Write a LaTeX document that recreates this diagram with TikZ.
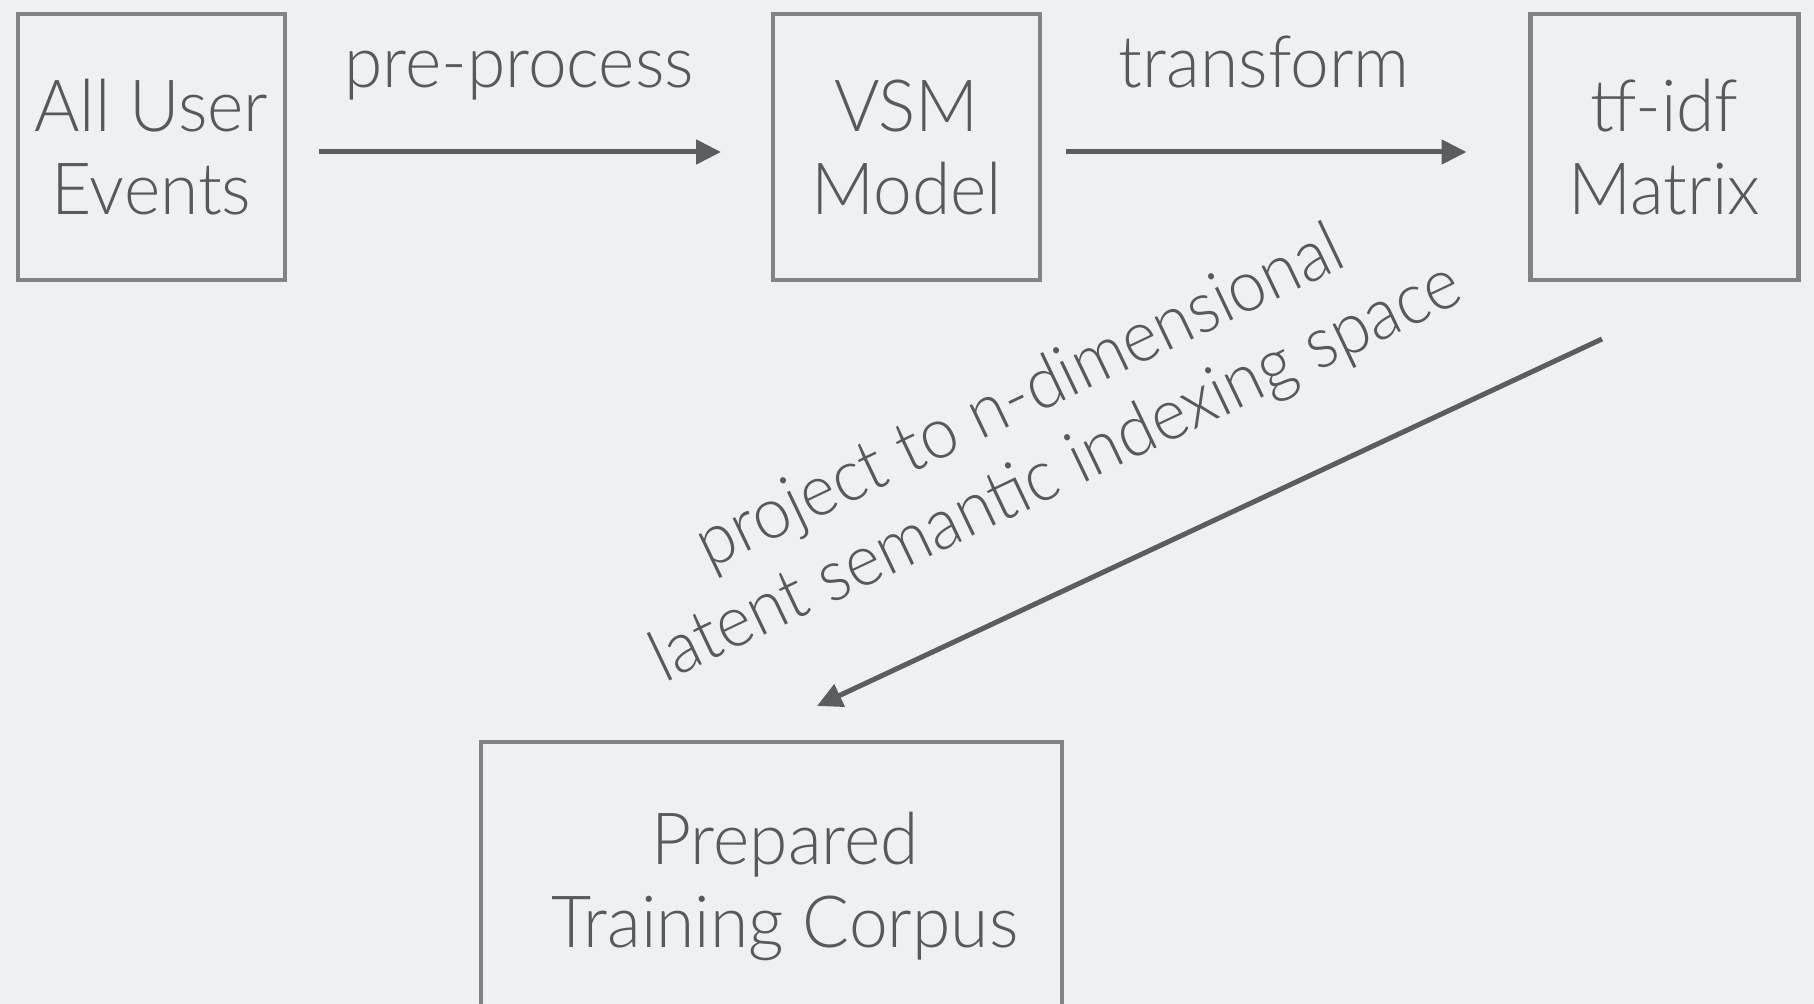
\documentclass[tikz,border=0pt]{standalone}
\usepackage{fontspec}
\setmainfont{Lato Light}[FakeStretch=0.965]
\usetikzlibrary{arrows.meta,calc}
\definecolor{bgcol}{RGB}{238,240,243}
\definecolor{boxcol}{RGB}{128,133,131}
\definecolor{inkcol}{RGB}{88,90,90}
\definecolor{arrcol}{RGB}{90,94,94}
\newcommand\labelfont{\fontsize{36}{41.5}\selectfont}
\begin{document}
\begin{tikzpicture}[x=0.5pt,y=-0.5pt,
  stagebox/.style={draw=boxcol, line width=2.4pt, outer sep=0pt, inner sep=0pt,
    text=inkcol, align=center, font=\labelfont},
  flow/.style={draw=arrcol, line width=2.5pt, -{Triangle[length=12.5pt,width=12pt]}},
  steplabel/.style={text=inkcol, font=\labelfont, inner sep=0pt, anchor=base}]
  % canvas
  \useasboundingbox (0,0) rectangle (1814,1004);
  \fill[bgcol] (0,0) rectangle (1814,1004);
  \clip (0,0) rectangle (1814,1004);

  % pipeline stages
  \node[stagebox, minimum width=133.5pt, minimum height=133pt] (events) at (151.5,147) {All User\\Events};
  \node[stagebox, minimum width=133.5pt, minimum height=133pt] (vsm) at (906.5,147) {VSM\\Model};
  \node[stagebox, minimum width=134pt, minimum height=133pt] (tfidf) at (1664.5,147) {tf-idf\\Matrix};
  \node[stagebox, minimum width=290.5pt, minimum height=144pt] (corpus) at (771.5,886)
    {\hspace*{13.5pt}Prepared\\\hspace*{13.5pt}Training Corpus};

  % transitions
  \draw[flow, shorten <=17pt, shorten >=26pt] ([yshift=-2.5pt]events.east) --
    node[steplabel, pos=0.4795, yshift=32pt] (lblpre) {pre-process} ([yshift=-2.5pt]vsm.west);
  \draw[flow, shorten <=13pt, shorten >=32pt] ([yshift=-2.5pt]vsm.east) --
    node[steplabel, pos=0.457, yshift=32pt] (lbltrans) {transform} ([yshift=-2.5pt]tfidf.west);
  \draw[flow] ($(tfidf.south)+(-62.5,59)$) -- ($(corpus.north)+(45.5,-36)$);

  % label of the projection step, set a little narrower
  \node[text=inkcol, font=\labelfont\addfontfeatures{FakeStretch=0.94}, align=center,
        inner sep=0pt, rotate=25.5] (lblproj) at (1039,437)
    {project to n-dimensional\\latent semantic indexing space};
\end{tikzpicture}
\end{document}
